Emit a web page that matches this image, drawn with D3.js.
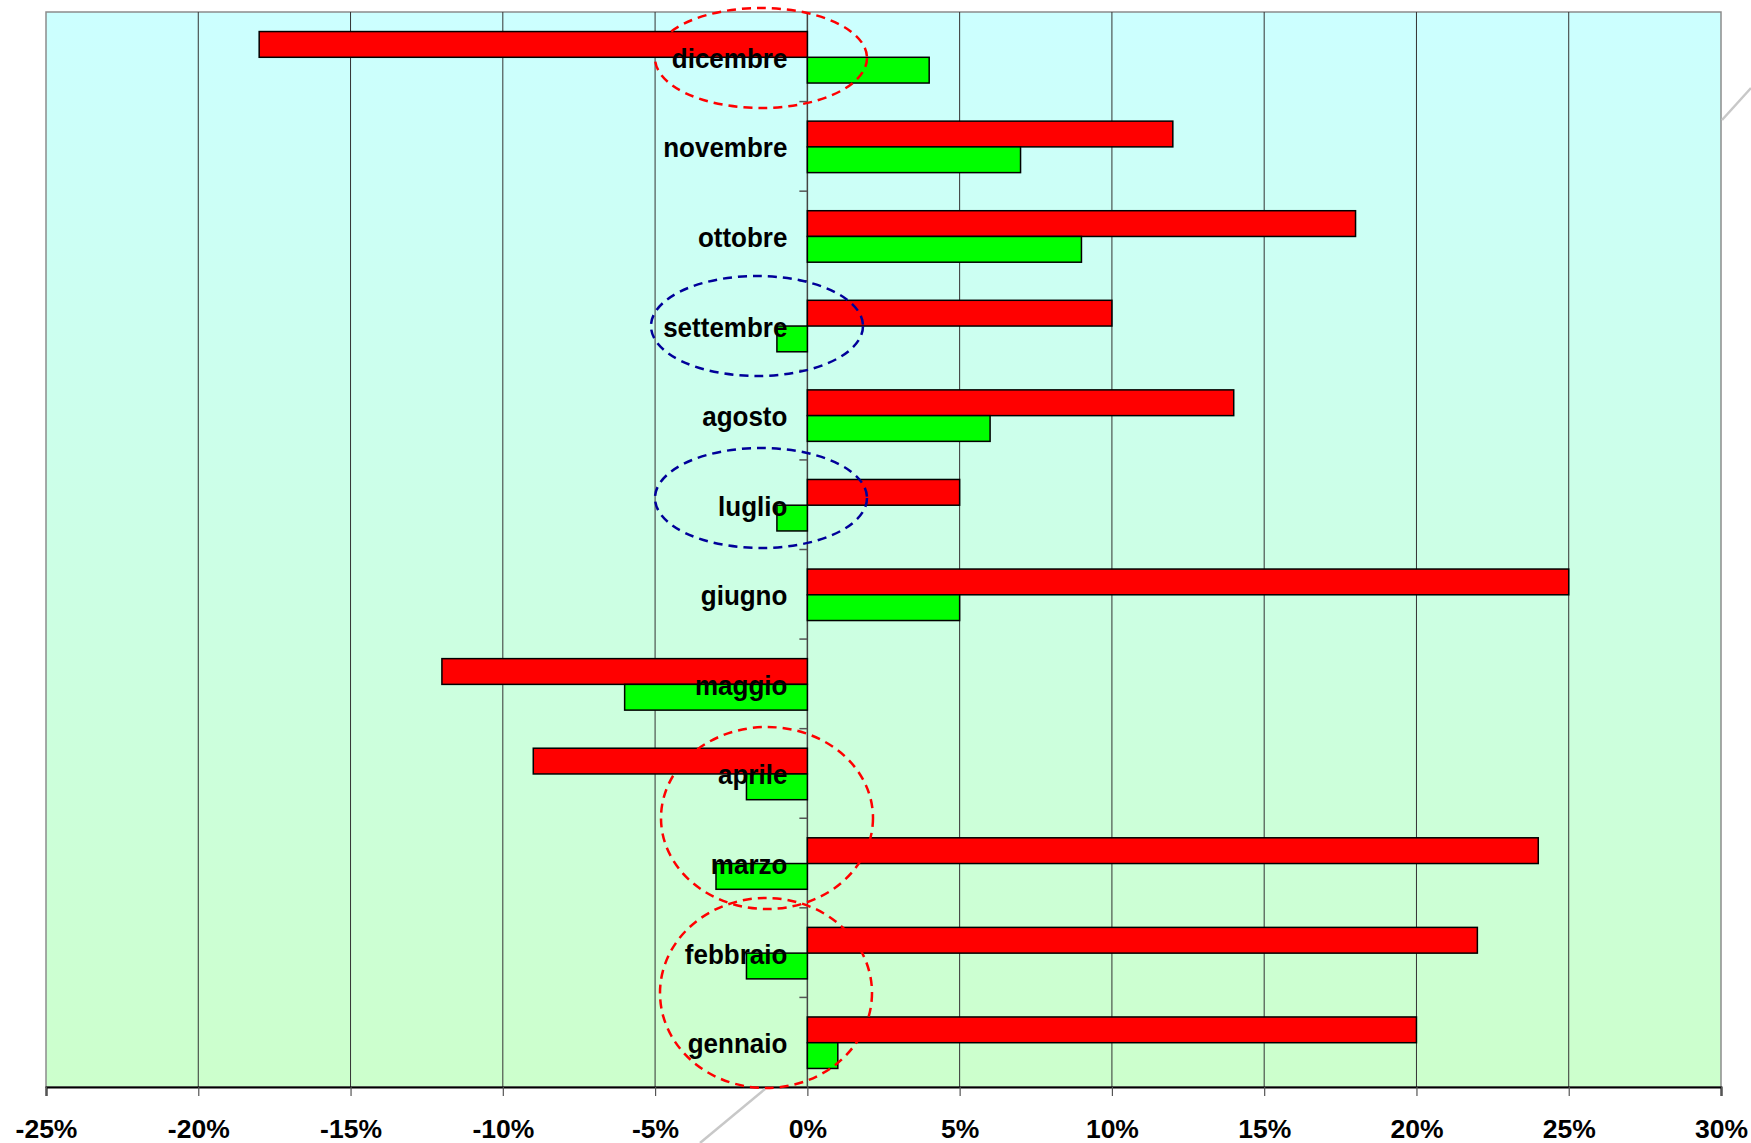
<!DOCTYPE html>
<html>
<head>
<meta charset="utf-8">
<script src="https://cdn.jsdelivr.net/npm/d3@7/dist/d3.min.js"></script>
<style>
  html, body { margin: 0; padding: 0; background: #ffffff; }
  svg { display: block; }
  text { font-family: "Liberation Sans", Arial, sans-serif; font-weight: bold; fill: #000; }
</style>
</head>
<body>
<script>
// Months, listed top to bottom
const months = ["dicembre", "novembre", "ottobre", "settembre", "agosto", "luglio",
                "giugno", "maggio", "aprile", "marzo", "febbraio", "gennaio"];
// Percentage change per month (red = upper bar, green = lower bar)
const redValues   = [-18, 12, 18, 10, 14, 5, 25, -12, -9, 24, 22, 20];
const greenValues = [4, 7, 9, -1, 6, -1, 5, -6, -2, -3, -2, 1];
// Axis ticks (percent)
const xTicks = [-25, -20, -15, -10, -5, 0, 5, 10, 15, 20, 25, 30];

const W = 1751, H = 1143;
const plot = { left: 46, right: 1721, top: 12, bottom: 1087 };

const svg = d3.select("body").append("svg").attr("width", W).attr("height", H);

const x = d3.scaleLinear().domain([-25, 30]).range([plot.left, plot.right]);
const y = d3.scaleBand().domain(months).range([plot.top, plot.bottom]).padding(0);
const ySeries = d3.scaleBand().domain(["red", "green"])
  .range([0, y.bandwidth()]).paddingInner(0).paddingOuter(0.74);

// background gradient of the plot area
const defs = svg.append("defs");
const grad = defs.append("linearGradient").attr("id", "plotBg")
  .attr("x1", 0).attr("y1", 0).attr("x2", 0).attr("y2", 1);
grad.append("stop").attr("offset", "0%").attr("stop-color", "#ccffff");
grad.append("stop").attr("offset", "100%").attr("stop-color", "#ccffcc");

svg.append("rect")
  .attr("x", plot.left).attr("y", plot.top)
  .attr("width", plot.right - plot.left).attr("height", plot.bottom - plot.top)
  .attr("fill", "url(#plotBg)")
  .attr("stroke", "#8c8c8c").attr("stroke-width", 1.5);

// vertical gridlines
svg.append("g").selectAll("line")
  .data(xTicks.filter(t => t > -25 && t < 30 && t !== 0))
  .join("line")
  .attr("x1", d => x(d)).attr("x2", d => x(d))
  .attr("y1", plot.top).attr("y2", plot.bottom)
  .attr("stroke", "#333").attr("stroke-width", 1);

// bottom axis
const xAxis = d3.axisBottom(x).tickValues(xTicks)
  .tickFormat(d => d + "%").tickSize(9).tickPadding(23);
const gx = svg.append("g").attr("transform", `translate(0,${plot.bottom})`).call(xAxis);
gx.select(".domain").attr("stroke", "#000").attr("stroke-width", 2);
gx.selectAll(".tick line").attr("stroke", "#555").attr("stroke-width", 1.2);
gx.selectAll(".tick text").attr("font-size", 26.5).attr("font-weight", "bold")
  .attr("font-family", "Liberation Sans, Arial, sans-serif").attr("fill", "#000");

// zero line with category ticks
const boundaries = d3.range(1, months.length).map(i => plot.top + i * y.step());
svg.append("line")
  .attr("x1", x(0)).attr("x2", x(0)).attr("y1", plot.top).attr("y2", plot.bottom)
  .attr("stroke", "#444").attr("stroke-width", 1.5);
svg.append("g").selectAll("line").data(boundaries).join("line")
  .attr("x1", x(0) - 8).attr("x2", x(0))
  .attr("y1", d => d).attr("y2", d => d)
  .attr("stroke", "#555").attr("stroke-width", 1.5);

// bars
const rows = months.map((m, i) => ({ month: m, red: redValues[i], green: greenValues[i] }));
const barG = svg.append("g");
[["red", "#ff0000"], ["green", "#00ff00"]].forEach(([key, color]) => {
  barG.selectAll("rect." + key).data(rows).join("rect")
    .attr("class", key)
    .attr("x", d => x(Math.min(0, d[key])))
    .attr("width", d => Math.abs(x(d[key]) - x(0)))
    .attr("y", d => y(d.month) + ySeries(key) + 0.5)
    .attr("height", ySeries.bandwidth())
    .attr("fill", color)
    .attr("stroke", "#000").attr("stroke-width", 1.5);
});

// month labels (slightly tall lettering)
svg.append("g").selectAll("text").data(months).join("text")
  .attr("text-anchor", "end")
  .attr("font-size", 26)
  .attr("transform", d => `translate(${x(0) - 20},${y(d) + y.bandwidth() / 2 + 11}) scale(1,1.07)`)
  .text(d => d);

// dashed highlight ellipses
const ellipses = [
  { cx: 761, cy: 58, rx: 106, ry: 50, color: "#ff0000" },
  { cx: 757, cy: 326, rx: 106, ry: 50, color: "#000099" },
  { cx: 761, cy: 498, rx: 106, ry: 50, color: "#000099" },
  { cx: 767, cy: 818, rx: 106, ry: 91, color: "#ff0000" },
  { cx: 766, cy: 993, rx: 106, ry: 95, color: "#ff0000" }
];
svg.append("g").selectAll("ellipse").data(ellipses).join("ellipse")
  .attr("cx", d => d.cx).attr("cy", d => d.cy)
  .attr("rx", d => d.rx).attr("ry", d => d.ry)
  .attr("fill", "none").attr("stroke", d => d.color)
  .attr("stroke-width", 2.5).attr("stroke-dasharray", "9,6");

// light grey connector strokes
const connectors = [
  [[765, 1089], [700, 1143]],
  [[1722, 120], [1751, 88]]
];
svg.append("g").selectAll("line").data(connectors).join("line")
  .attr("x1", d => d[0][0]).attr("y1", d => d[0][1])
  .attr("x2", d => d[1][0]).attr("y2", d => d[1][1])
  .attr("stroke", "#c8c8c8").attr("stroke-width", 2.5);
</script>
</body>
</html>
